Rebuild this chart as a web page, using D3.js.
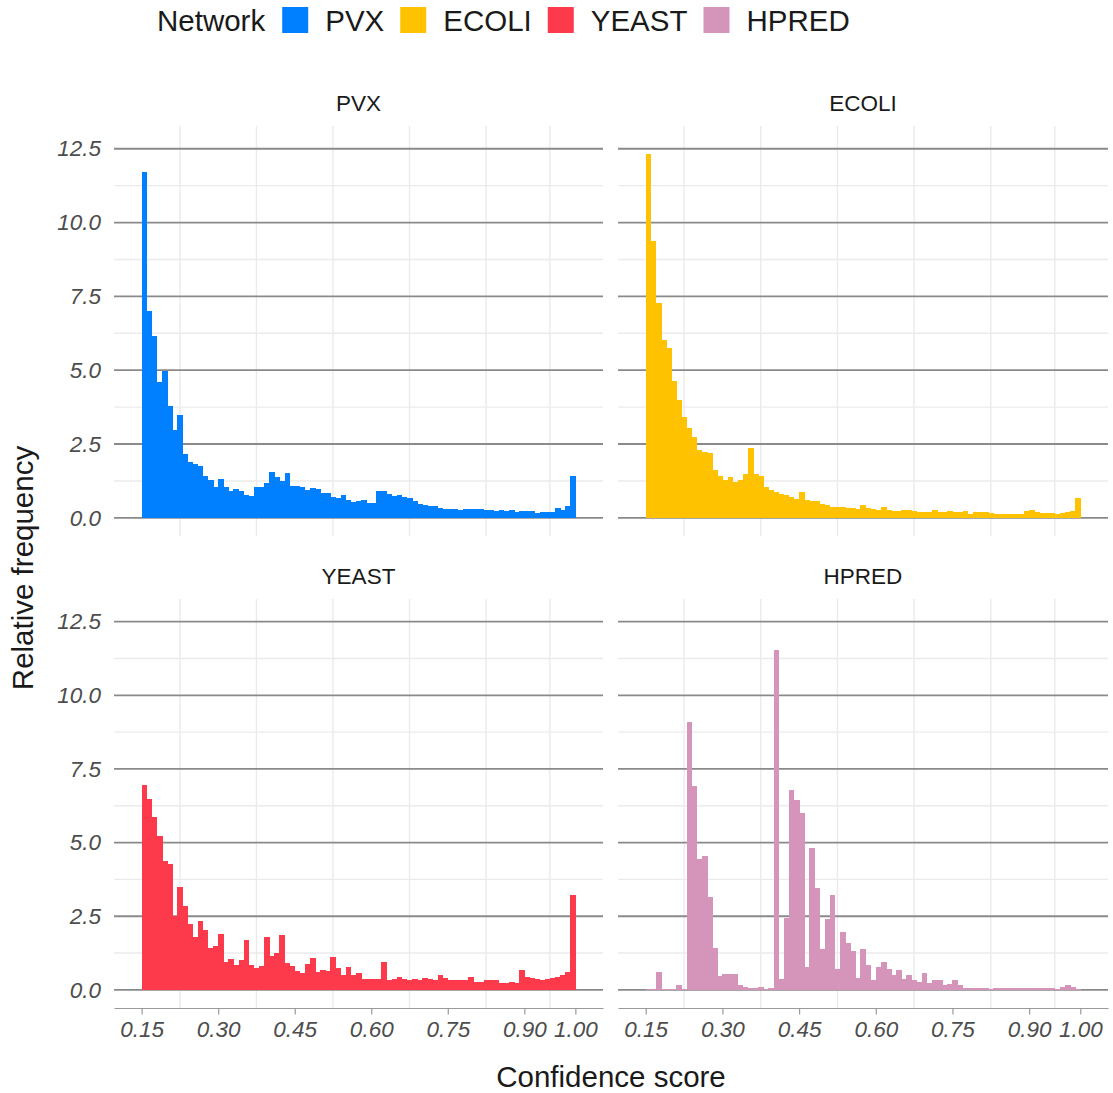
<!DOCTYPE html>
<html>
<head>
<meta charset="utf-8">
<script src="https://cdn.jsdelivr.net/npm/d3@7"></script>
<style>
  html, body { margin: 0; padding: 0; background: #fff; }
  svg { display: block; font-family: "Liberation Sans", Arial, Helvetica, sans-serif; }
</style>
</head>
<body>
<svg id="chart" width="1113" height="1093"></svg>
<script>
// Histogram of confidence scores, 0.01-wide bins from 0.15 to 1.00
const binStart = 0.15;
const binWidth = 0.01;

const networks = ["PVX", "ECOLI", "YEAST", "HPRED"];
const colors = ["#0080FF", "#FFC200", "#FC3A4C", "#D595BB"];

// Relative frequency per bin (85 bins each)
const pvx = [
  11.70, 6.99, 6.15, 4.59, 4.98, 3.78, 2.97, 3.47, 2.15, 1.88,
  1.82, 1.75, 1.41, 1.27, 1.04, 1.31, 1.04, 0.90, 0.97, 0.90,
  0.77, 0.73, 1.04, 1.04, 1.17, 1.55, 1.38, 1.24, 1.51, 1.07,
  1.07, 1.04, 0.94, 1.00, 0.97, 0.83, 0.83, 0.70, 0.67, 0.77,
  0.60, 0.53, 0.56, 0.60, 0.50, 0.50, 0.90, 0.90, 0.80, 0.73,
  0.77, 0.70, 0.66, 0.56, 0.46, 0.43, 0.39, 0.39, 0.33, 0.29,
  0.29, 0.29, 0.26, 0.29, 0.29, 0.29, 0.29, 0.26, 0.26, 0.23,
  0.26, 0.23, 0.26, 0.19, 0.23, 0.23, 0.23, 0.16, 0.19, 0.19,
  0.19, 0.33, 0.26, 0.39, 1.41
];
const ecoli = [
  12.31, 9.36, 7.27, 6.01, 5.74, 4.63, 3.98, 3.41, 3.03, 2.73,
  2.29, 2.22, 2.19, 1.61, 1.41, 1.27, 1.38, 1.21, 1.27, 1.48,
  2.36, 1.48, 1.41, 1.04, 0.94, 0.87, 0.80, 0.77, 0.70, 0.63,
  0.87, 0.60, 0.56, 0.56, 0.46, 0.43, 0.36, 0.36, 0.36, 0.33,
  0.33, 0.29, 0.43, 0.33, 0.29, 0.26, 0.36, 0.26, 0.23, 0.23,
  0.26, 0.26, 0.23, 0.19, 0.19, 0.19, 0.26, 0.19, 0.19, 0.23,
  0.19, 0.19, 0.23, 0.12, 0.19, 0.19, 0.19, 0.16, 0.12, 0.12,
  0.12, 0.12, 0.12, 0.12, 0.23, 0.26, 0.19, 0.16, 0.16, 0.16,
  0.12, 0.16, 0.19, 0.23, 0.66
];
const yeast = [
  6.95, 6.48, 5.87, 5.23, 4.38, 4.28, 2.50, 3.50, 2.86, 2.25,
  1.81, 2.35, 2.02, 1.41, 1.48, 1.91, 0.93, 1.04, 0.83, 1.00,
  1.68, 0.83, 0.73, 0.80, 1.81, 1.14, 1.24, 1.85, 0.90, 0.80,
  0.63, 0.56, 0.87, 1.07, 0.60, 0.66, 0.63, 1.10, 0.73, 0.50,
  0.77, 0.52, 0.59, 0.38, 0.38, 0.38, 0.38, 0.96, 0.35, 0.38,
  0.45, 0.38, 0.32, 0.38, 0.35, 0.42, 0.38, 0.32, 0.52, 0.42,
  0.35, 0.32, 0.32, 0.35, 0.45, 0.28, 0.28, 0.32, 0.32, 0.35,
  0.25, 0.25, 0.28, 0.25, 0.66, 0.45, 0.42, 0.38, 0.35, 0.38,
  0.42, 0.45, 0.52, 0.62, 3.22
];
const hpred = [
  0.03, 0.03, 0.61, 0.03, 0.03, 0.03, 0.17, 0.03, 9.09, 6.93,
  4.43, 4.56, 3.14, 1.42, 0.47, 0.54, 0.54, 0.54, 0.17, 0.10,
  0.07, 0.07, 0.10, 0.03, 0.07, 11.55, 0.37, 2.43, 6.79, 6.45,
  6.01, 0.78, 4.83, 3.45, 1.39, 2.40, 3.21, 0.71, 1.96, 1.59,
  1.32, 0.41, 1.39, 0.86, 0.35, 0.79, 0.93, 0.72, 0.49, 0.69,
  0.38, 0.52, 0.32, 0.28, 0.59, 0.25, 0.35, 0.32, 0.18, 0.21,
  0.35, 0.15, 0.08, 0.05, 0.05, 0.05, 0.08, 0.02, 0.05, 0.05,
  0.05, 0.08, 0.05, 0.05, 0.05, 0.05, 0.08, 0.08, 0.05, 0.05,
  0.02, 0.11, 0.15, 0.11, 0.02
];
const seriesValues = [pvx, ecoli, yeast, hpred];

const xTicks = [0.15, 0.30, 0.45, 0.60, 0.75, 0.90, 1.00];
const xMinorGrid = [0.225, 0.375, 0.525, 0.675, 0.825, 0.95];
const yTicks = [0, 2.5, 5, 7.5, 10, 12.5];
const yMinorGrid = [1.25, 3.75, 6.25, 8.75, 11.25];

// Axis limits (range padded around the data)
const xLimits = [0.0958, 1.0542];
const yLimits = [-0.615, 13.27];

const svg = d3.select("#chart");

// Facet layout
const colX = [[114, 603], [618, 1108]];
const rowY = [[126, 536], [599, 1008]];

const panels = networks.map((name, i) => ({
  name,
  color: colors[i],
  values: seriesValues[i],
  col: i % 2,
  row: Math.floor(i / 2)
}));

panels.forEach(p => {
  const [x0, x1] = colX[p.col];
  const [y0, y1] = rowY[p.row];
  const x = d3.scaleLinear().domain(xLimits).range([x0, x1]);
  const y = d3.scaleLinear().domain(yLimits).range([y1, y0]);
  const g = svg.append("g");

  // minor grid
  g.selectAll(".vminor").data(xMinorGrid).join("line")
    .attr("x1", d => x(d)).attr("x2", d => x(d))
    .attr("y1", y0).attr("y2", y1)
    .attr("stroke", "#EBEBEB").attr("stroke-width", 1.4);
  g.selectAll(".hminor").data(yMinorGrid).join("line")
    .attr("x1", x0).attr("x2", x1)
    .attr("y1", d => y(d)).attr("y2", d => y(d))
    .attr("stroke", "#EBEBEB").attr("stroke-width", 1.4);
  // major horizontal grid
  g.selectAll(".hmajor").data(yTicks).join("line")
    .attr("x1", x0).attr("x2", x1)
    .attr("y1", d => y(d)).attr("y2", d => y(d))
    .attr("stroke", "#8A8A8A").attr("stroke-width", 1.8);

  // bars
  const bins = p.values.map((v, k) => ({
    lo: binStart + k * binWidth,
    hi: binStart + (k + 1) * binWidth,
    v
  }));
  g.append("g").attr("shape-rendering", "crispEdges")
    .selectAll("rect").data(bins).join("rect")
    .attr("x", d => x(d.lo))
    .attr("width", d => x(d.hi) - x(d.lo) + 0.5)
    .attr("y", d => y(d.v))
    .attr("height", d => y(0) - y(d.v))
    .attr("fill", p.color);

  // strip label
  svg.append("text")
    .attr("x", (x0 + x1) / 2).attr("y", y0 - 15)
    .attr("text-anchor", "middle")
    .attr("font-size", 22.5).attr("fill", "#1A1A1A")
    .text(p.name);

  // y axis labels on left column
  if (p.col === 0) {
    const ya = d3.axisLeft(y).tickValues(yTicks).tickFormat(d3.format(".1f")).tickSize(0).tickPadding(0);
    const ag = svg.append("g").attr("transform", `translate(${x0 - 13},0)`).call(ya);
    ag.select(".domain").remove();
    ag.selectAll("text")
      .attr("font-family", "Liberation Sans, Arial, sans-serif")
      .attr("font-size", 22.5).attr("font-style", "italic").attr("fill", "#4D4D4D");
  }

  // x axis on bottom row
  if (p.row === 1) {
    const xa = d3.axisBottom(x).tickValues(xTicks).tickFormat(d3.format(".2f")).tickSize(6.5).tickPadding(7).tickSizeOuter(0);
    const ag = svg.append("g").attr("transform", `translate(0,${y1})`).call(xa);
    ag.select(".domain").attr("stroke", "#9A9A9A").attr("stroke-width", 1.2);
    ag.selectAll(".tick line").attr("stroke", "#9A9A9A").attr("stroke-width", 1.2);
    ag.selectAll("text")
      .attr("font-family", "Liberation Sans, Arial, sans-serif")
      .attr("font-size", 22.5).attr("font-style", "italic").attr("fill", "#4D4D4D");
  }
});

// axis titles
svg.append("text")
  .attr("transform", "translate(33,568) rotate(-90)")
  .attr("text-anchor", "middle")
  .attr("font-size", 29.5).attr("fill", "#1A1A1A")
  .text("Relative frequency");

svg.append("text")
  .attr("x", 611).attr("y", 1087)
  .attr("text-anchor", "middle")
  .attr("font-size", 29.5).attr("fill", "#1A1A1A")
  .text("Confidence score");

// legend
const lg = svg.append("g");
const title = lg.append("text")
  .attr("x", 157).attr("y", 31)
  .attr("font-size", 29.5).attr("fill", "#1A1A1A")
  .text("Network");
let cx = 157 + title.node().getComputedTextLength() + 17;
networks.forEach((name, i) => {
  lg.append("rect")
    .attr("x", cx).attr("y", 7).attr("width", 26).attr("height", 26)
    .attr("fill", colors[i]);
  cx += 26 + 17;
  const t = lg.append("text")
    .attr("x", cx).attr("y", 31)
    .attr("font-size", 29.5).attr("fill", "#1A1A1A")
    .text(name);
  cx += t.node().getComputedTextLength() + 16;
});
</script>
</body>
</html>
